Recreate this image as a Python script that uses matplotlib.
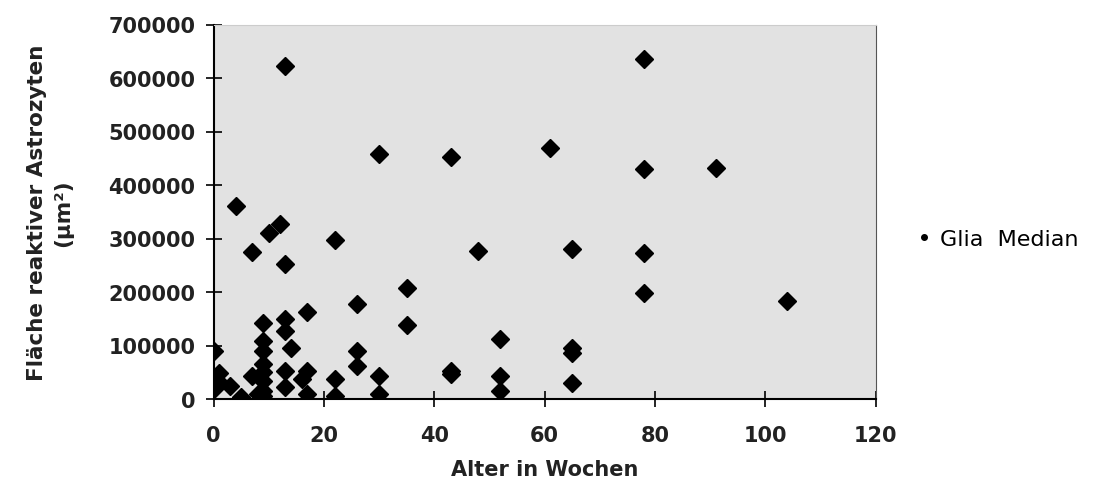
import matplotlib.pyplot as plt

# Alter in Wochen / Fläche reaktiver Astrozyten (µm²)
weeks = [0, 0, 1, 1, 3, 4, 5, 7, 7, 8,
         9, 9, 9, 9, 9, 9, 9, 9,
         10, 12, 13, 13, 13, 13, 13, 13, 14,
         16, 17, 17, 17,
         22, 22, 22, 26, 26, 26,
         30, 30, 30, 35, 35,
         43, 43, 43, 48, 52, 52, 52,
         61, 65, 65, 65, 65,
         78, 78, 78, 78, 91, 104]
area = [90000, 19000, 48000, 31000, 25000, 360000, 3000, 274000, 43500, 10000,
        142000, 109000, 90000, 65000, 50000, 34000, 15500, 6000,
        311000, 328000, 622000, 252000, 149000, 127000, 53000, 22000, 96000,
        37000, 163000, 53000, 9300,
        298000, 38000, 6000, 177000, 90000, 62000,
        458000, 43500, 9300, 207000, 138000,
        453000, 53000, 47000, 277000, 112000, 43500, 15500,
        470000, 281000, 96000, 86000, 30000,
        635000, 430000, 272000, 198000, 431000, 184000]

xticks = [0, 20, 40, 60, 80, 100, 120]
yticks = [0, 100000, 200000, 300000, 400000, 500000, 600000, 700000]

plt.rcParams['font.family'] = 'DejaVu Sans'

fig = plt.figure(figsize=(11.04, 5.02), dpi=100)
ax = fig.add_axes([213.5 / 1104, 1 - 400 / 502, (875.8 - 213.5) / 1104, (400 - 25.5) / 502])
ax.set_facecolor('#e2e2e2')

ax.plot(weeks, area, linestyle='none', marker='D', markersize=8.7,
        color='black', label='Glia  Median')

ax.set_xlim(0, 120)
ax.set_ylim(0, 700000)
ax.set_xticks(xticks)
ax.set_yticks(yticks)
ax.set_yticklabels([str(v) for v in yticks])

ax.tick_params(axis='y', direction='inout', length=12, width=1.2, pad=7,
               labelsize=15)
ax.tick_params(axis='x', direction='inout', length=11, width=1.2, pad=13,
               labelsize=15)
for lab in ax.get_xticklabels() + ax.get_yticklabels():
    lab.set_fontweight('bold')
    lab.set_color('#222222')

ax.spines['left'].set_linewidth(1.5)
ax.spines['bottom'].set_linewidth(1.5)
ax.spines['top'].set_color('#cccccc')
ax.spines['right'].set_color('#555555')

ax.set_xlabel('Alter in Wochen', fontsize=15, fontweight='bold',
              color='#222222', labelpad=10)
fig.text(50 / 1104, 1 - 213 / 502, 'Fläche reaktiver Astrozyten\n(µm²)',
         rotation=90, ha='center', va='center', multialignment='center',
         fontsize=15.5, fontweight='bold', color='#222222', linespacing=1.4)

leg = fig.legend(loc='center left', bbox_to_anchor=(898 / 1104, 1 - 240 / 502),
                 frameon=False, fontsize=16, handlelength=0.5,
                 handletextpad=0.5)
leg.legend_handles[0].set_marker('o')
leg.legend_handles[0].set_markersize(4)

fig.savefig('out.png', dpi=100)
